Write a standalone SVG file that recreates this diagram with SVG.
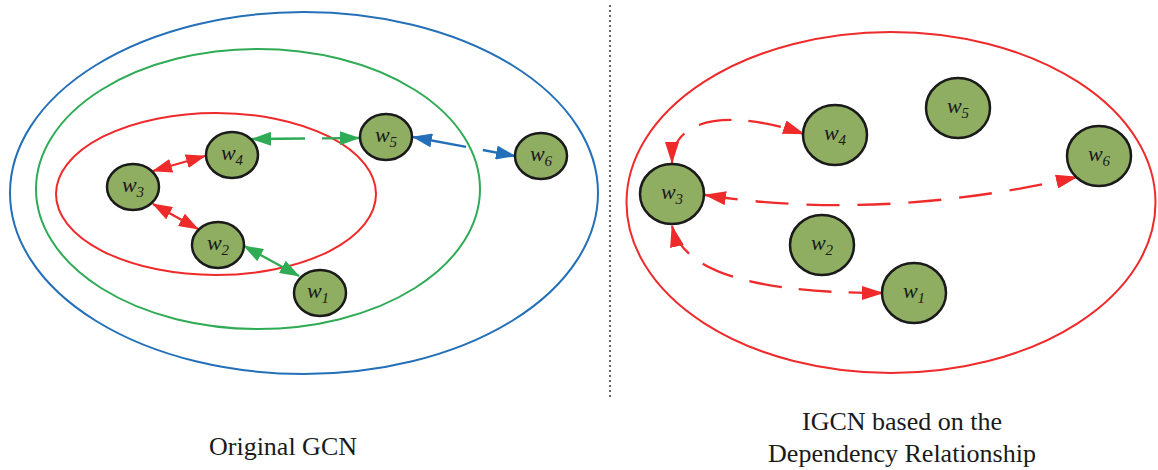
<svg xmlns="http://www.w3.org/2000/svg" width="1158" height="470" viewBox="0 0 1158 470">
<style>
.node{fill:#8fae62;stroke:#1a1a1a;stroke-width:2.5}
.lbl{font-family:"Liberation Serif",serif;font-style:italic;font-size:22px;fill:#1a1a1a}
.sub{font-size:15px}
.cap{font-family:"Liberation Serif",serif;font-size:26px;fill:#1a1a1a;text-anchor:middle}
.con{fill:none;stroke-width:2.3}
</style>
<defs>
<marker id="ar" viewBox="0 0 20 14" refX="19" refY="7" markerWidth="20" markerHeight="14" markerUnits="userSpaceOnUse" orient="auto-start-reverse"><path d="M0,0 L20,7 L0,14 z" fill="#ee2a2a"/></marker>
<marker id="ag" viewBox="0 0 20 14" refX="19" refY="7" markerWidth="20" markerHeight="14" markerUnits="userSpaceOnUse" orient="auto-start-reverse"><path d="M0,0 L20,7 L0,14 z" fill="#2fab55"/></marker>
<marker id="ab" viewBox="0 0 20 14" refX="19" refY="7" markerWidth="20" markerHeight="14" markerUnits="userSpaceOnUse" orient="auto-start-reverse"><path d="M0,0 L20,7 L0,14 z" fill="#2470b8"/></marker>
<marker id="ar2" viewBox="0 0 22 14" refX="21" refY="7" markerWidth="22" markerHeight="14" markerUnits="userSpaceOnUse" orient="auto-start-reverse"><path d="M0,0 L22,7 L0,14 z" fill="#ee2a2a"/></marker>
</defs>
<g id="regions" fill="none" stroke-width="2">
<ellipse cx="304" cy="193" rx="294" ry="181" stroke="#2470b8"/>
<ellipse cx="258" cy="189" rx="222" ry="140" stroke="#2fab55"/>
<ellipse cx="216" cy="194" rx="160" ry="81" stroke="#ee2a2a"/>
<ellipse cx="891" cy="202.5" rx="264.5" ry="170.5" stroke="#ee2a2a"/>
</g>
<line id="divider" x1="610" y1="5" x2="610" y2="400" stroke="#333" stroke-width="1.5" stroke-dasharray="2 3"/>
<g id="connectors">
<line class="con" x1="153" y1="171" x2="205" y2="156" stroke="#ee2a2a" marker-start="url(#ar)" marker-end="url(#ar)"/>
<line class="con" x1="153" y1="204" x2="198" y2="229" stroke="#ee2a2a" marker-start="url(#ar)" marker-end="url(#ar)"/>
<line class="con" x1="244" y1="246" x2="299" y2="276" stroke="#2fab55" marker-start="url(#ag)" marker-end="url(#ag)"/>
<line class="con" x1="252" y1="139" x2="359" y2="138" stroke="#2fab55" stroke-dasharray="53 17" marker-start="url(#ag)" marker-end="url(#ag)"/>
<line class="con" x1="413" y1="137" x2="515" y2="156" stroke="#2470b8" stroke-dasharray="54 17" marker-start="url(#ab)" marker-end="url(#ab)"/>
<path class="con" d="M672,163 C672,115 735,110 804,134" stroke="#ee2a2a" stroke-dasharray="33 17" marker-start="url(#ar2)" marker-end="url(#ar2)"/>
<path class="con" d="M705,195 Q880,222 1077,177" stroke="#ee2a2a" stroke-dasharray="33 18" marker-start="url(#ar2)" marker-end="url(#ar2)"/>
<path class="con" d="M672,226 C685,280 780,293 883,293" stroke="#ee2a2a" stroke-dasharray="33 17" marker-start="url(#ar2)" marker-end="url(#ar2)"/>
</g>
<g id="L-w1"><ellipse class="node" cx="320" cy="293" rx="26" ry="23"/><text class="lbl" x="318" y="298" text-anchor="middle">w<tspan class="sub" dy="5">1</tspan></text></g>
<g id="L-w2"><ellipse class="node" cx="218" cy="245" rx="26" ry="23"/><text class="lbl" x="218" y="250" text-anchor="middle">w<tspan class="sub" dy="5">2</tspan></text></g>
<g id="L-w3"><ellipse class="node" cx="133" cy="187" rx="26" ry="23"/><text class="lbl" x="133" y="192" text-anchor="middle">w<tspan class="sub" dy="5">3</tspan></text></g>
<g id="L-w4"><ellipse class="node" cx="232" cy="155" rx="26" ry="23"/><text class="lbl" x="232" y="160" text-anchor="middle">w<tspan class="sub" dy="5">4</tspan></text></g>
<g id="L-w5"><ellipse class="node" cx="386" cy="137" rx="26" ry="23"/><text class="lbl" x="386" y="142" text-anchor="middle">w<tspan class="sub" dy="5">5</tspan></text></g>
<g id="L-w6"><ellipse class="node" cx="541" cy="156" rx="26" ry="23"/><text class="lbl" x="541" y="161" text-anchor="middle">w<tspan class="sub" dy="5">6</tspan></text></g>
<g id="R-w1"><ellipse class="node" cx="914" cy="293" rx="32" ry="30"/><text class="lbl" x="914" y="298" text-anchor="middle">w<tspan class="sub" dy="5">1</tspan></text></g>
<g id="R-w2"><ellipse class="node" cx="822" cy="245" rx="32" ry="30"/><text class="lbl" x="822" y="250" text-anchor="middle">w<tspan class="sub" dy="5">2</tspan></text></g>
<g id="R-w3"><ellipse class="node" cx="672" cy="194" rx="32" ry="30"/><text class="lbl" x="672" y="199" text-anchor="middle">w<tspan class="sub" dy="5">3</tspan></text></g>
<g id="R-w4"><ellipse class="node" cx="835" cy="135" rx="32" ry="30"/><text class="lbl" x="835" y="140" text-anchor="middle">w<tspan class="sub" dy="5">4</tspan></text></g>
<g id="R-w5"><ellipse class="node" cx="958" cy="108" rx="32" ry="30"/><text class="lbl" x="958" y="113" text-anchor="middle">w<tspan class="sub" dy="5">5</tspan></text></g>
<g id="R-w6"><ellipse class="node" cx="1099" cy="156" rx="32" ry="30"/><text class="lbl" x="1099" y="161" text-anchor="middle">w<tspan class="sub" dy="5">6</tspan></text></g>
<text class="cap" x="283" y="455">Original GCN</text>
<text class="cap" x="902" y="430">IGCN based on the</text>
<text class="cap" x="902" y="462">Dependency Relationship</text>
</svg>
